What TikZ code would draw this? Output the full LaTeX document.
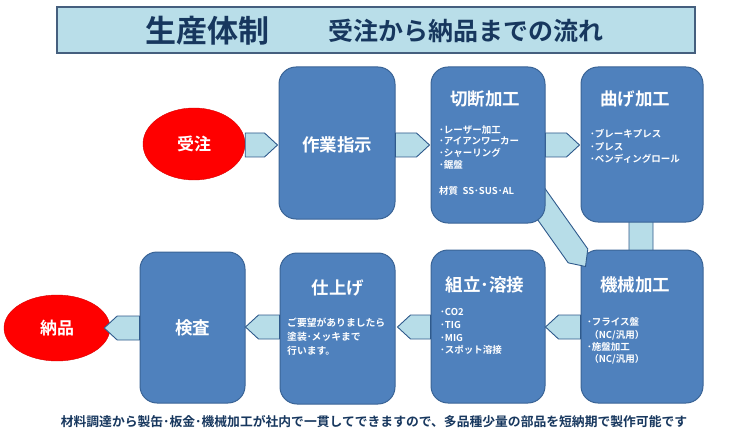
\documentclass[tikz,border=0pt]{standalone}
\usepackage{fontspec}
\usetikzlibrary{calc}
\newfontfamily\jp{Noto Sans CJK JP}[BoldFont={Noto Sans CJK JP Bold}]
\definecolor{boxfill}{HTML}{4F81BD}
\definecolor{boxline}{HTML}{3A6496}
\definecolor{arrfill}{HTML}{B7DDE8}
\definecolor{arrline}{HTML}{2F5A8C}
\definecolor{navy}{HTML}{17375E}
\definecolor{titlefill}{HTML}{B9DEE9}
\pgfdeclarelayer{bg}
\pgfdeclarelayer{fg}
\pgfsetlayers{bg,main,fg}
\newcommand\pentarrow[2]{%
  \draw[arrshape] ($(#1)!12pt!90:(#2)$) -- ($($(#2)!13pt!(#1)$)!12pt!-90:(#1)$) -- (#2)
    -- ($($(#2)!13pt!(#1)$)!12pt!90:(#1)$) -- ($(#1)!12pt!-90:(#2)$) -- cycle;}
\tikzset{
  box/.style={draw=boxline, fill=boxfill, line width=1pt, rounded corners=17pt, inner sep=0pt},
  oval/.style={ellipse, fill=red, draw=red!85!black, line width=0.4pt, inner sep=0pt,
    text=white, font=\jp\bfseries\fontsize{17}{20}\selectfont},
  ttl/.style={text=white, inner sep=0pt, font=\jp\bfseries\fontsize{17.5}{20}\selectfont},
  item/.style={text=white, inner sep=0pt, align=left, anchor=north west,
    font=\jp\bfseries\fontsize{9.5}{12.5}\selectfont},
  arrshape/.style={fill=arrfill, draw=arrline, line width=0.9pt, line join=miter},
}
\usetikzlibrary{shapes.geometric}
\begin{document}
\begin{tikzpicture}[x=1pt,y=-1pt]
\useasboundingbox (0,0) rectangle (750,441);
% title
\node[draw=navy!80, fill=titlefill, line width=1.2pt, minimum width=638pt, minimum height=46pt,
  inner sep=0pt] (title) at (376,30) {};
\node[text=navy, inner sep=0pt, font=\jp\bfseries\fontsize{31}{34}\selectfont] (titleA) at (207.5,31) {生産体制};
\node[text=navy, inner sep=0pt, font=\jp\bfseries\fontsize{25}{28}\selectfont] (titleB) at (466,31) {受注から納品までの流れ};
% top row
\node[oval, minimum width=102pt, minimum height=72pt] (juchu) at (194,144) {受注};
\node[box, minimum width=116pt, minimum height=152pt] (sagyo) at (337,143) {};
\node[ttl] (sagyoT) at (337,145) {作業指示};
\begin{pgfonlayer}{fg}
\node[box, minimum width=114pt, minimum height=156pt] (setsudan) at (488,145) {};
\node[ttl] (setsudanT) at (485,99) {切断加工};
\node[item, font=\jp\bfseries\fontsize{9.5}{11.8}\selectfont] (setsudanI) at (439,125) {･レーザー加工\\･アイアンワーカー\\･シャーリング\\･鋸盤\\[14pt]材質\ \ SS･SUS･AL};
\end{pgfonlayer}
\node[box, minimum width=122pt, minimum height=155pt] (mage) at (642,144.5) {};
\node[ttl] (mageT) at (635,99) {曲げ加工};
\node[item] (mageI) at (590,129.5) {･ブレーキプレス\\･プレス\\･ベンディングロール};
% bottom row
\node[box, minimum width=122pt, minimum height=153pt] (kikai) at (642,326.5) {};
\node[ttl] (kikaiT) at (635,285) {機械加工};
\node[item, font=\jp\bfseries\fontsize{9.5}{12.3}\selectfont] (kikaiI) at (587,317.5) {･フライス盤\\\ （NC/汎用）\\･施盤加工\\\ （NC/汎用）};
\node[box, minimum width=114pt, minimum height=153pt] (kumi) at (488,326.5) {};
\node[ttl] (kumiT) at (485,285) {組立･溶接};
\node[item, font=\jp\bfseries\fontsize{9.5}{12.7}\selectfont] (kumiI) at (440,308.5) {･CO2\\･TIG\\･MIG\\･スポット溶接};
\node[box, minimum width=115pt, minimum height=151pt] (shiage) at (337.5,328.5) {};
\node[ttl] (shiageT) at (338,288) {仕上げ};
\node[item, font=\jp\bfseries\fontsize{9.8}{14}\selectfont] (shiageI) at (287,317.5) {ご要望がありましたら\\塗装･メッキまで\\行います。};
\node[box, minimum width=105pt, minimum height=151pt] (kensa) at (192.5,327.5) {};
\node[ttl] (kensaT) at (192.5,327.5) {検査};
\node[oval, minimum width=106pt, minimum height=66pt] (nohin) at (57,328) {納品};
% connectors
\coordinate (a1s) at (juchu.east |- 0,145);
\coordinate (a1e) at ($(sagyo.west |- 0,145)+(-1,0)$);
\pentarrow{a1s}{a1e}
\coordinate (a2s) at (sagyo.east |- 0,145);
\coordinate (a2e) at ($(setsudan.west |- 0,145)+(-1,0)$);
\pentarrow{a2s}{a2e}
\coordinate (a3s) at (setsudan.east |- 0,145);
\coordinate (a3e) at ($(mage.west |- 0,145)+(-1,0)$);
\pentarrow{a3s}{a3e}
\begin{pgfonlayer}{bg}
\coordinate (a4s) at ($(mage.south)+(-1,-8)$);
\coordinate (a4e) at ($(kikai.north)+(-1,20)$);
\pentarrow{a4s}{a4e}
\end{pgfonlayer}
\coordinate (a5s) at ($(setsudan.south east)+(-11,-29)$);
\coordinate (a5e) at ($(kikai.north west)+(5,17)$);
\pentarrow{a5s}{a5e}
\coordinate (a6s) at (kikai.west |- 0,327);
\coordinate (a6e) at ($(kumi.east |- 0,327)+(0,0)$);
\pentarrow{a6s}{a6e}
\coordinate (a7s) at (kumi.west |- 0,327);
\coordinate (a7e) at ($(shiage.east |- 0,327)+(2,0)$);
\pentarrow{a7s}{a7e}
\coordinate (a8s) at (shiage.west |- 0,327);
\coordinate (a8e) at (kensa.east |- 0,327);
\pentarrow{a8s}{a8e}
\coordinate (a9s) at (kensa.west |- 0,328);
\coordinate (a9e) at ($(nohin.east |- 0,328)+(-6,0)$);
\pentarrow{a9s}{a9e}
% footer
\node[text=navy, inner sep=0pt, font=\jp\bfseries\fontsize{12.8}{15}\selectfont] (footer) at (374,422) {材料調達から製缶･板金･機械加工が社内で一貫してできますので、多品種少量の部品を短納期で製作可能です};
\end{tikzpicture}
\end{document}
